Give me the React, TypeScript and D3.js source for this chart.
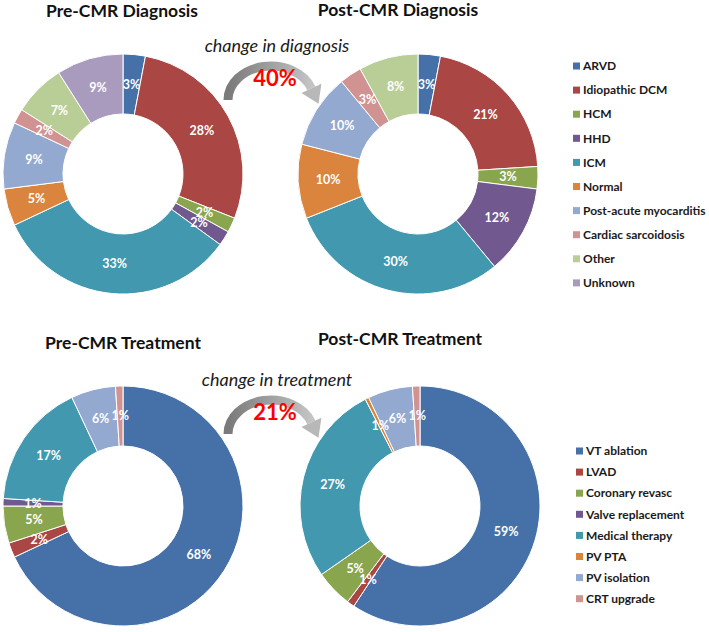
import React from 'react';
import * as d3 from 'd3';

const diagnosisCategories = ['ARVD', 'Idiopathic DCM', 'HCM', 'HHD', 'ICM', 'Normal', 'Post-acute myocarditis', 'Cardiac sarcoidosis', 'Other', 'Unknown'];
const diagnosisColors = ['#4571A8', '#AA4643', '#89A54E', '#71588F', '#4198AF', '#DB843D', '#93A9CF', '#D19392', '#B9CD96', '#A99BBD'];
const preDiagnosis = [3, 28, 2, 2, 33, 5, 9, 2, 7, 9];
const postDiagnosis = [3, 21, 3, 12, 30, 10, 10, 3, 8, 0];

const treatmentCategories = ['VT ablation', 'LVAD', 'Coronary revasc', 'Valve replacement', 'Medical therapy', 'PV PTA', 'PV isolation', 'CRT upgrade'];
const treatmentColors = ['#4571A8', '#AA4643', '#89A54E', '#71588F', '#4198AF', '#DB843D', '#93A9CF', '#D19392'];
const preTreatment = [68, 2, 5, 1, 17, 0, 6, 1];
const postTreatment = [59, 1, 5, 0, 27, 0.5, 6, 1];

const changeLabels = ['change in diagnosis', 'change in treatment'];
const changeValues = ['40%', '21%'];

const FONT = 'Lato, "Open Sans", sans-serif';
const INNER = 60;
const OUTER = 120;

function Donut({ cx, cy, values, colors }: { cx: number; cy: number; values: number[]; colors: string[] }) {
  const pie = d3.pie<number>().sort(null).value((d) => d);
  const arcs = pie(values);
  const arc = d3.arc<d3.PieArcDatum<number>>().innerRadius(INNER).outerRadius(OUTER);
  return (
    <g transform={`translate(${cx},${cy})`}>
      {arcs.map((a, i) =>
        a.data > 0 ? (
          <path key={i} d={arc(a) || ''} fill={colors[i]} stroke="#ffffff" strokeWidth={1} />
        ) : null
      )}
      {arcs.map((a, i) => {
        if (a.data <= 0) return null;
        const [x, y] = arc.centroid(a);
        return (
          <text key={'t' + i} x={x} y={y} dy="0.35em" textAnchor="middle" fill="#ffffff"
            fontFamily={FONT} fontWeight="bold" fontSize={12.5}>
            {`${Math.round(a.data)}%`}
          </text>
        );
      })}
    </g>
  );
}

function Legend({ x, y, step, items, colors }: { x: number; y: number; step: number; items: string[]; colors: string[] }) {
  return (
    <g>
      {items.map((name, i) => (
        <g key={name} transform={`translate(${x},${y + i * step})`}>
          <rect x={0} y={-3.5} width={7} height={7} fill={colors[i]} />
          <text x={10} y={0} dy="0.35em" fontFamily={FONT} fontWeight="bold" fontSize={12} fill="#1a1a1a">
            {name}
          </text>
        </g>
      ))}
    </g>
  );
}

function ChangeArrow({ dy, label, value, id }: { dy: number; label: string; value: string; id: string }) {
  const cx = 271, cy = 100, rx = 43, ry = 34;
  const endT = (20 * Math.PI) / 180;
  const ex = cx + rx * Math.cos(endT);
  const ey = cy - ry * Math.sin(endT);
  const tx = rx * Math.sin(endT), ty = ry * Math.cos(endT);
  const tl = Math.hypot(tx, ty);
  const ux = tx / tl, uy = ty / tl;
  const px = uy, py = -ux;
  const hw = 11, hl = 17;
  const head = `M${ex + px * hw},${ey + py * hw} L${ex - px * hw},${ey - py * hw} L${ex + ux * hl},${ey + uy * hl} Z`;
  return (
    <g transform={`translate(0,${dy})`}>
      <defs>
        <linearGradient id={id} x1="0" x2="1" y1="0" y2="0">
          <stop offset="0%" stopColor="#7a7a7a" />
          <stop offset="100%" stopColor="#c4c4c4" />
        </linearGradient>
      </defs>
      <path d={`M${cx - rx},${cy} A${rx},${ry} 0 0 1 ${ex},${ey}`} fill="none" stroke={`url(#${id})`} strokeWidth={9} />
      <path d={head} fill="#b8b8b8" />
      <text x={277} y={52} textAnchor="middle" fontFamily={FONT} fontStyle="italic" fontSize={18} fill="#1a1a1a">
        {label}
      </text>
      <text x={275} y={86} textAnchor="middle" fontFamily={FONT} fontWeight="bold" fontSize={22} fill="#ff0000">
        {value}
      </text>
    </g>
  );
}

export default function App() {
  return (
    <svg width={709} height={632} viewBox="0 0 709 632" style={{ position: 'absolute', left: 0, top: 0, background: '#ffffff' }}>
      <rect width={709} height={632} fill="#ffffff" />
      <text x={122} y={17} textAnchor="middle" fontFamily={FONT} fontWeight="bold" fontSize={17.5} fill="#111">Pre-CMR Diagnosis</text>
      <text x={398} y={16} textAnchor="middle" fontFamily={FONT} fontWeight="bold" fontSize={17.5} fill="#111">Post-CMR Diagnosis</text>
      <text x={123} y={349} textAnchor="middle" fontFamily={FONT} fontWeight="bold" fontSize={17.5} fill="#111">Pre-CMR Treatment</text>
      <text x={400} y={345} textAnchor="middle" fontFamily={FONT} fontWeight="bold" fontSize={17.5} fill="#111">Post-CMR Treatment</text>

      <Donut cx={123} cy={174} values={preDiagnosis} colors={diagnosisColors} />
      <Donut cx={418} cy={174} values={postDiagnosis} colors={diagnosisColors} />
      <Donut cx={123} cy={506} values={preTreatment} colors={treatmentColors} />
      <Donut cx={420} cy={506} values={postTreatment} colors={treatmentColors} />

      <ChangeArrow dy={0} label={changeLabels[0]} value={changeValues[0]} id="g1" />
      <ChangeArrow dy={334} label={changeLabels[1]} value={changeValues[1]} id="g2" />

      <Legend x={573} y={66} step={24.1} items={diagnosisCategories} colors={diagnosisColors} />
      <Legend x={576} y={451} step={21.1} items={treatmentCategories} colors={treatmentColors} />
    </svg>
  );
}
